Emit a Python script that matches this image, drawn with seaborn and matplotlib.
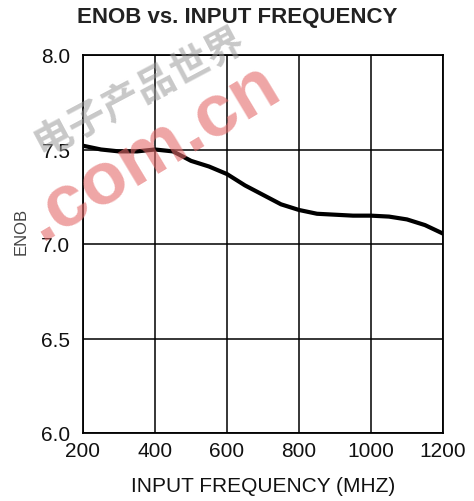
import matplotlib
matplotlib.use("Agg")
import matplotlib.pyplot as plt
import seaborn as sns
import pandas as pd

# === 数据 ===
freq_mhz = [200, 250, 300, 350, 400, 450, 500, 550, 600, 650, 700,
            750, 800, 850, 900, 950, 1000, 1050, 1100, 1150, 1200]
enob = [7.52, 7.50, 7.49, 7.49, 7.50, 7.49, 7.44, 7.41, 7.37, 7.31, 7.26,
        7.21, 7.18, 7.16, 7.155, 7.15, 7.15, 7.145, 7.13, 7.10, 7.055]
x_ticks = [200, 400, 600, 800, 1000, 1200]
y_ticks = [6.0, 6.5, 7.0, 7.5, 8.0]

df = pd.DataFrame({"freq": freq_mhz, "enob": enob})

sns.set_style("white")
plt.rcParams['font.family'] = ['Liberation Sans', 'DejaVu Sans']

fig = plt.figure(figsize=(4.74, 5.02), dpi=100)
ax = fig.add_axes([83 / 474, 1 - 434 / 502, 360 / 474, 378 / 502])

sns.lineplot(data=df, x="freq", y="enob", ax=ax, color="black", linewidth=3.0)

ax.set_xlim(200, 1200)
ax.set_ylim(6.0, 8.0)
ax.set_xticks(x_ticks)
ax.set_yticks(y_ticks)
ax.set_yticklabels([f"{v:.1f}" for v in y_ticks])
ax.grid(True, color="black", linewidth=1.1)
for s in ax.spines.values():
    s.set_color("black")
    s.set_linewidth(1.3)
ax.tick_params(axis="both", length=0, labelsize=15, colors="#111111")
ax.tick_params(axis="x", pad=6)
ax.tick_params(axis="y", pad=9)

ax.set_xlabel("INPUT FREQUENCY (MHZ)", fontsize=15, color="#111111", labelpad=11)
ax.set_ylabel("ENOB", fontsize=12, color="#444444")
ax.yaxis.set_label_coords(-0.15, 0.536)
fig.text(0.5, 1 - 18 / 502, "ENOB vs. INPUT FREQUENCY", ha="center", va="center",
         fontsize=16, fontweight="bold", color="#222222")

# 水印
fig.text(140 / 474, 1 - 92 / 502, "电子产品世界", fontsize=28, rotation=28,
         color="#9a9a9a", alpha=0.55, ha="center", va="center",
         family=['Noto Sans CJK SC'], fontweight="bold")
fig.text(153 / 474, 1 - 152 / 502, ".com.cn", fontsize=54, rotation=31,
         color="#e46a6a", alpha=0.6, ha="center", va="center",
         fontweight="bold")

fig.savefig("out.png", dpi=100)
